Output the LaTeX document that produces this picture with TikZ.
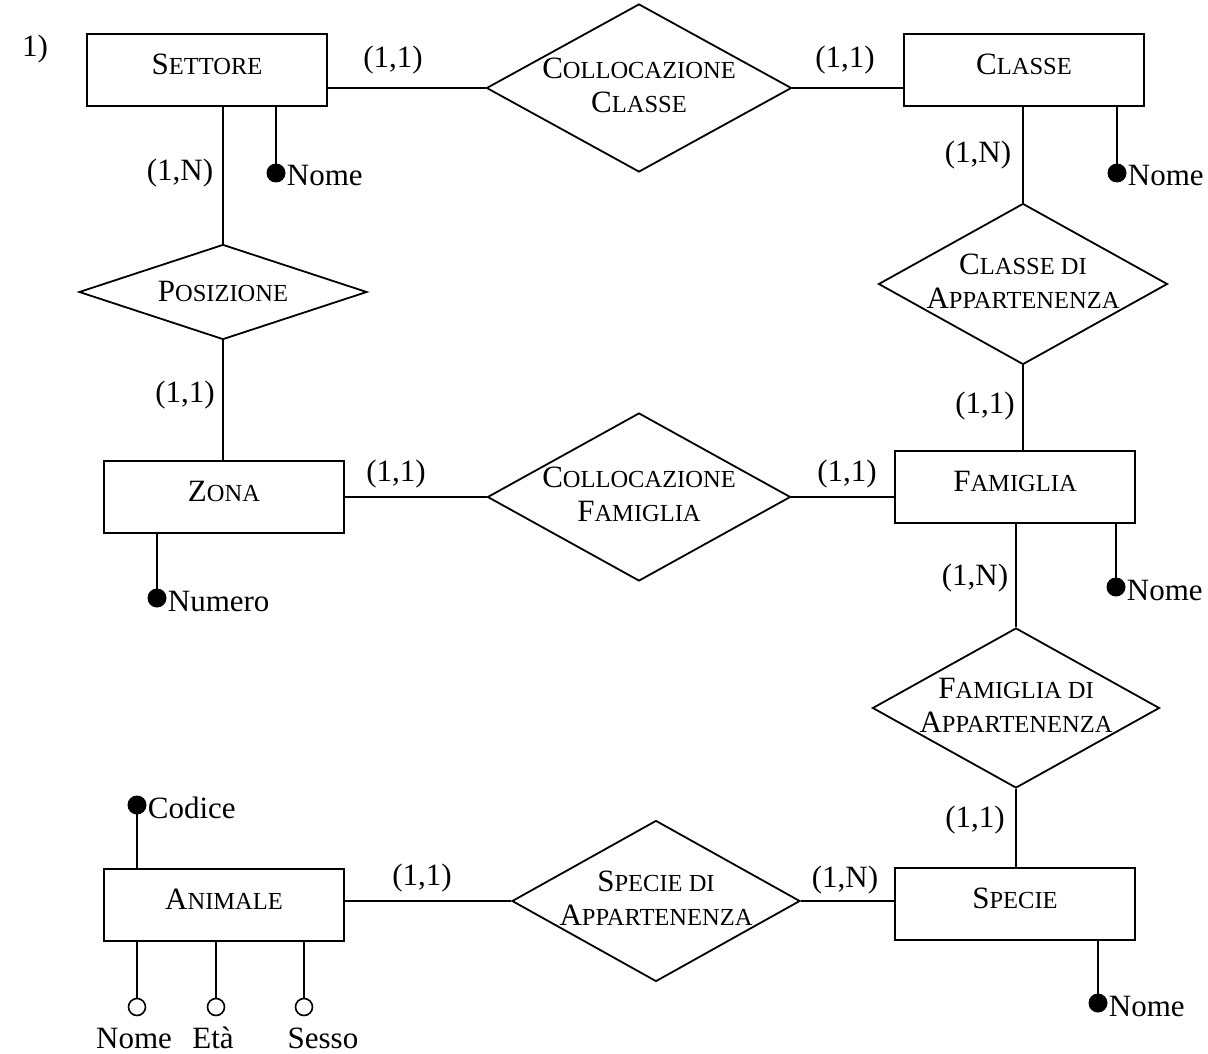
\documentclass[tikz,border=0pt]{standalone}
\usepackage{fontspec}
\setmainfont{Liberation Serif}
\usetikzlibrary{shapes.geometric}
\newcommand\scp[2]{#1{\fontsize{24.5}{34}\selectfont #2}}
\begin{document}
\begin{tikzpicture}[x=1pt,y=-1pt,
  every node/.style={font=\fontsize{31}{34}\selectfont},
  ent/.style={draw, line width=1.8pt, minimum width=241pt, minimum height=72pt, inner sep=0pt},
  rel/.style={draw, diamond, line width=1.8pt, inner sep=0pt},
  keyatt/.style={circle, fill=black, minimum size=19pt, inner sep=0pt},
  optatt/.style={circle, draw, fill=white, line width=1.6pt, minimum size=17pt, inner sep=0pt},
  card/.style={inner sep=0pt},
  lbl/.style={inner sep=1pt, anchor=west},
  conn/.style={line width=1.8pt}]
\useasboundingbox (0,0) rectangle (1208,1054);
\node[anchor=base west, inner sep=0pt] (num) at (22,57) {1)};
% entities
\node[ent, minimum width=240pt] (settore) at (207,70) {};
\node[inner sep=0pt] (settoret) at ([yshift=6pt]settore.center) {\scp{S}{ETTORE}};
\node[ent, minimum width=240pt] (classe) at (1024,70) {};
\node[inner sep=0pt] (classet) at ([yshift=6pt]classe.center) {\scp{C}{LASSE}};
\node[ent, minimum width=240pt] (zona) at (224,497) {};
\node[inner sep=0pt] (zonat) at ([yshift=6pt]zona.center) {\scp{Z}{ONA}};
\node[ent, minimum width=240pt] (famiglia) at (1015,487) {};
\node[inner sep=0pt] (famigliat) at ([yshift=6pt]famiglia.center) {\scp{F}{AMIGLIA}};
\node[ent, minimum width=240pt] (specie) at (1015,904) {};
\node[inner sep=0pt] (speciet) at ([yshift=6pt]specie.center) {\scp{S}{PECIE}};
\node[ent, minimum width=240pt] (animale) at (224,905) {};
\node[inner sep=0pt] (animalet) at ([yshift=6pt]animale.center) {\scp{A}{NIMALE}};
% relationships
\node[rel, minimum width=305pt, minimum height=168pt] (cc) at (639,88) {};
\node[inner sep=0pt, align=center] (cct) at ([yshift=3pt]cc.center) {\scp{C}{OLLOCAZIONE}\\\scp{C}{LASSE}};
\node[rel, minimum width=288pt, minimum height=95pt] (pos) at (223,292) {};
\node[inner sep=0pt] (post) at ([yshift=1pt]pos.center) {\scp{P}{OSIZIONE}};
\node[rel, minimum width=303pt, minimum height=168pt] (cf) at (639,497) {};
\node[inner sep=0pt, align=center] (cft) at ([yshift=3pt]cf.center) {\scp{C}{OLLOCAZIONE}\\\scp{F}{AMIGLIA}};
\node[rel, minimum width=289pt, minimum height=161pt] (cda) at (1023,284) {};
\node[inner sep=0pt, align=center] (cdat) at ([yshift=3pt]cda.center) {\scp{C}{LASSE DI}\\\scp{A}{PPARTENENZA}};
\node[rel, minimum width=287pt, minimum height=160pt] (fda) at (1016,708) {};
\node[inner sep=0pt, align=center] (fdat) at ([yshift=3pt]fda.center) {\scp{F}{AMIGLIA DI}\\\scp{A}{PPARTENENZA}};
\node[rel, minimum width=288pt, minimum height=161pt] (sda) at (656,901) {};
\node[inner sep=0pt, align=center] (sdat) at ([yshift=3pt]sda.center) {\scp{S}{PECIE DI}\\\scp{A}{PPARTENENZA}};
% connectors
\draw[conn] (settore.east |- cc.west) -- (cc.west);
\draw[conn] (cc.east) -- (cc.east -| classe.west);
\draw[conn] (settore.south -| pos.north) -- (pos.north);
\draw[conn] (pos.south) -- (pos.south |- zona.north);
\draw[conn] (zona.east |- cf.west) -- (cf.west);
\draw[conn] (cf.east) -- (cf.east -| famiglia.west);
\draw[conn] (classe.south -| cda.north) -- (cda.north);
\draw[conn] (cda.south) -- (cda.south |- famiglia.north);
\draw[conn] (famiglia.south -| fda.north) -- (fda.north);
\draw[conn] (fda.south) -- (fda.south |- specie.north);
\draw[conn] (animale.east |- sda.west) -- (sda.west);
\draw[conn] (sda.east) -- (sda.east -| specie.west);
% cardinalities
\node[card] (c1) at (393,60) {(1,1)};
\node[card] (c2) at (845,60) {(1,1)};
\node[card] (c3) at (180,173) {(1,N)};
\node[card] (c4) at (978,155) {(1,N)};
\node[card] (c5) at (185,395) {(1,1)};
\node[card] (c6) at (396,474) {(1,1)};
\node[card] (c7) at (847,474) {(1,1)};
\node[card] (c8) at (985,406) {(1,1)};
\node[card] (c9) at (975,578) {(1,N)};
\node[card] (c10) at (975,820) {(1,1)};
\node[card] (c11) at (422,878) {(1,1)};
\node[card] (c12) at (845,880) {(1,N)};
% identifiers
\node[keyatt] (sn) at (276,173) {};
\draw[conn] (sn.center) -- (sn.center |- settore.south);
\node[lbl] (snt) at ([yshift=-3pt]sn.east) {Nome};
\node[keyatt] (cn) at (1117,173) {};
\draw[conn] (cn.center) -- (cn.center |- classe.south);
\node[lbl] (cnt) at ([yshift=-3pt]cn.east) {Nome};
\node[keyatt] (zn) at (157,598) {};
\draw[conn] (zn.center) -- (zn.center |- zona.south);
\node[lbl] (znt) at ([yshift=-3pt]zn.east) {Numero};
\node[keyatt] (fn) at (1116,587) {};
\draw[conn] (fn.center) -- (fn.center |- famiglia.south);
\node[lbl] (fnt) at ([yshift=-3pt]fn.east) {Nome};
\node[keyatt] (spn) at (1098,1003) {};
\draw[conn] (spn.center) -- (spn.center |- specie.south);
\node[lbl] (spnt) at ([yshift=-3pt]spn.east) {Nome};
\node[keyatt] (ac) at (137,805) {};
\draw[conn] (ac.center) -- (ac.center |- animale.north);
\node[lbl] (act) at ([yshift=-3pt]ac.east) {Codice};
% optional attributes
\node[optatt] (an) at (137,1007) {};
\node[optatt] (ae) at (216,1007) {};
\node[optatt] (as) at (304,1007) {};
\draw[conn] (an.north) -- (an.north |- animale.south);
\draw[conn] (ae.north) -- (ae.north |- animale.south);
\draw[conn] (as.north) -- (as.north |- animale.south);
\node[anchor=base, inner sep=0pt] (ant) at (134,1048) {Nome};
\node[anchor=base, inner sep=0pt] (aet) at (213,1048) {Età};
\node[anchor=base, inner sep=0pt] (ast) at (323,1048) {Sesso};
\end{tikzpicture}
\end{document}
